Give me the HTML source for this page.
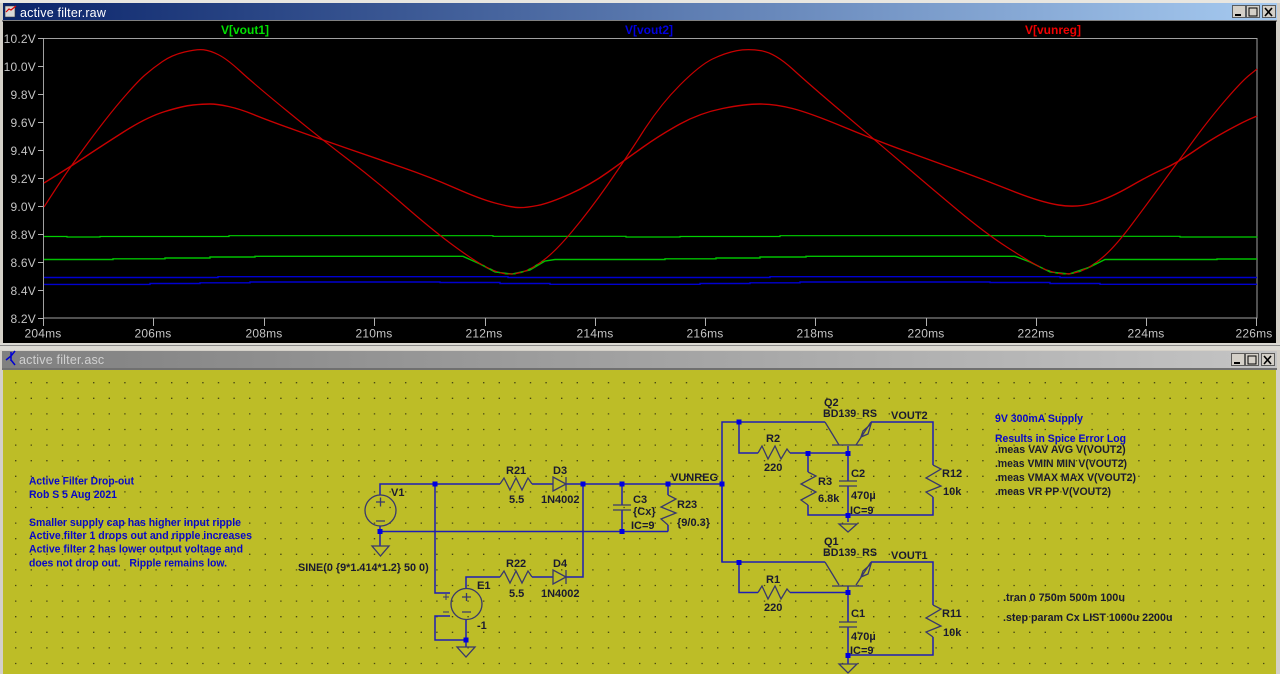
<!DOCTYPE html>
<html><head><meta charset="utf-8"><style>
html,body{margin:0;padding:0;background:#d4d0c8;width:1280px;height:674px;overflow:hidden}
svg{display:block}
text{font-family:"Liberation Sans",sans-serif}
.ax{font-size:12px;fill:#c4c4c4;letter-spacing:.2px}
.t{font-size:11px;font-weight:bold;fill:#1a1a30}
.b{font-size:11px;font-weight:bold;fill:#0808c8}
.w{fill:none;stroke:#1e1eb4;stroke-width:1.5}
.s{fill:none;stroke:#38386c;stroke-width:1.3}
.j{fill:#0000e0}
</style></head><body>
<svg xmlns="http://www.w3.org/2000/svg" width="1280" height="674" viewBox="0 0 1280 674">
<defs>
<linearGradient id="g1" x1="0" x2="1" y1="0" y2="0"><stop offset="0" stop-color="#0a246a"/><stop offset="1" stop-color="#a6caf0"/></linearGradient>
<linearGradient id="g2" x1="0" x2="1" y1="0" y2="0"><stop offset="0" stop-color="#808080"/><stop offset="1" stop-color="#c4c4c4"/></linearGradient>
</defs>
<rect width="1280" height="674" fill="#d4d0c8"/>
<rect x="0" y="0" width="1280" height="3" fill="#e8e6e0"/>
<!-- Waveform window -->
<rect x="3" y="3" width="1274" height="17" fill="url(#g1)"/>
<rect x="2" y="20" width="1275" height="2" fill="#808080"/>
<rect x="3" y="21" width="1273" height="322" fill="#000"/>
<path d="M5 6h10v11h-10z" fill="#d8d8d8" stroke="#333" stroke-width=".6"/><path d="M6 12l3-3 2 1 5-4" fill="none" stroke="#e00000" stroke-width="1.2"/>
<text x="20" y="17" font-size="12.5" fill="#fff" letter-spacing=".2">active filter.raw</text>
<g fill="#d4d0c8" stroke="#404040" stroke-width=".8">
<rect x="1232.500" y="5.500" width="13" height="12"/><rect x="1246.500" y="5.500" width="13" height="12"/><rect x="1262.500" y="5.500" width="13" height="12"/></g>
<path d="M1235 15h6" stroke="#000" stroke-width="2"/><rect x="1249" y="8" width="8" height="8" fill="none" stroke="#000"/><path d="M1265 8l7 8M1272 8l-7 8" stroke="#000" stroke-width="1.600"/>
<rect x="43.500" y="38.500" width="1213.500" height="279.500" fill="none" stroke="#a0a0a0"/>
<path stroke="#b0b0b0" fill="none" d="M38 38.500h6M38 66.500h6M38 94.500h6M38 122.500h6M38 150.500h6M38 178.500h6M38 206.500h6M38 234.500h6M38 262.500h6M38 290.500h6M38 318.500h6M43.500 318v8M153.500 318v8M264.500 318v8M374.500 318v8M485.500 318v8M595.500 318v8M705.500 318v8M815.500 318v8M926.500 318v8M1036.500 318v8M1146.500 318v8M1256.500 318v8"/>
<g class="ax" text-anchor="end">
<text x="36" y="43">10.2V</text><text x="36" y="71">10.0V</text><text x="36" y="99">9.8V</text><text x="36" y="127">9.6V</text><text x="36" y="155">9.4V</text><text x="36" y="183">9.2V</text><text x="36" y="211">9.0V</text><text x="36" y="239">8.8V</text><text x="36" y="267">8.6V</text><text x="36" y="295">8.4V</text><text x="36" y="323">8.2V</text></g>
<g class="ax" text-anchor="middle">
<text x="43" y="337.500">204ms</text><text x="153" y="337.500">206ms</text><text x="264" y="337.500">208ms</text><text x="374" y="337.500">210ms</text><text x="484" y="337.500">212ms</text><text x="595" y="337.500">214ms</text><text x="705" y="337.500">216ms</text><text x="815" y="337.500">218ms</text><text x="926" y="337.500">220ms</text><text x="1036" y="337.500">222ms</text><text x="1146" y="337.500">224ms</text><text x="1254" y="337.500">226ms</text></g>
<g font-size="12" text-anchor="middle" font-weight="bold">
<text x="245" y="34" fill="#00e000">V[vout1]</text><text x="649" y="34" fill="#0000e0">V[vout2]</text><text x="1053" y="34" fill="#f00000">V[vunreg]</text></g>
<g fill="none" stroke-width="1.200">
<path stroke="#00d000" d="M44 236.500H67V237H100V236.500H229V235.700H493V236.300H626V237H680V236.500H780V235.700H1045V236.300H1180V237H1257V236.500"/>
<path stroke="#00c000" stroke-width="1.400" d="M44 259.500H113V258.800H165V258H210V257H255V256.300H463L480 264L495 272L512 274L530 270L545 261L555 259.500H665V258.800H716V258H760V257H806V256.300H1015L1030 262L1050 272L1069 274L1090 267L1105 259.500H1217V259H1257"/>
<path stroke="#0000d0" stroke-width="1.400" d="M44 277.500H218V276.700H508V277.500H770V276.700H1060V277.500H1257"/>
<path stroke="#0000d0" stroke-width="1.400" d="M44 284.400H150V283.500H200V282.800H250V282H440V282.500H500V283.500H550V284.300H700V283.500H750V282.800H800V282H990V282.500H1050V283.500H1100V284.300H1257"/>
<path stroke="#c80000" d="M44 207L56 188.500Q68 170 87.500 143.500Q107 117 122 99.500Q137 82 145 75Q153 68 162.500 61.500Q172 55 184.500 52Q197 49 203.500 49.750Q210 50.500 218.500 54.750Q227 59 240 71Q253 83 286.500 110.500Q320 138 347.500 159Q375 180 402.500 204Q430 228 450 243Q470 258 482.500 265Q495 272 503.500 273.500Q512 275 521 272.500Q530 270 542.500 261Q555 252 572.500 231Q590 210 607.500 185Q625 160 642.500 132.500Q660 105 680 85Q700 65 712.500 59Q725 53 736.500 50.750Q748 48.500 761.500 50.750Q775 53 792.500 69Q810 85 842.500 112.500Q875 140 902.500 163.500Q930 187 957.500 210Q985 233 1007.500 247.500Q1030 262 1040 267Q1050 272 1059.500 273.500Q1069 275 1079.500 271.500Q1090 268 1102.500 257.500Q1115 247 1132.500 223.500Q1150 200 1163.500 181.500Q1177 163 1193.500 140.500Q1210 118 1226 99.500Q1242 81 1249.500 75L1257 69"/>
<path stroke="#c80000" stroke-width="1.400" d="M44 183L58.500 174Q73 165 86.500 156Q100 147 123.500 132Q147 117 165 111.500Q183 106 193 105Q203 104 210 104Q217 104 228.500 106.500Q240 109 253.500 114.500Q267 120 293.500 129.500Q320 139 347.500 148.500Q375 158 402.500 167.500Q430 177 455 188Q480 199 495 203Q510 207 517.500 207.500Q525 208 537.500 205.500Q550 203 570 194Q590 185 607.500 172.500Q625 160 642.500 147.500Q660 135 680 124Q700 113 722.500 108.500Q745 104 760 104Q775 104 792.500 108.500Q810 113 842.500 126.500Q875 140 902.500 150Q930 160 957.500 170Q985 180 1012.500 191Q1040 202 1058.500 205Q1077 208 1093.500 203Q1110 198 1130 186.500Q1150 175 1163.500 169Q1177 163 1193.500 151.500Q1210 140 1226.500 131Q1243 122 1250 119L1257 116"/>
<path stroke="#00b000" stroke-dasharray="3 5" d="M482.500 265Q495 272 503.500 273.500Q512 275 521 272.500Q530 270 542.500 261"/>
<path stroke="#00b000" stroke-dasharray="3 5" d="M1040 267Q1050 272 1059.500 273.500Q1069 275 1079.500 271.500Q1090 268 1100 260"/>
</g>
<!-- Schematic window -->
<rect x="0" y="343" width="1280" height="7" fill="#dcdad4"/>
<rect x="0" y="345" width="1280" height="1" fill="#8a8a8a"/>
<rect x="2" y="351" width="1275" height="17" fill="url(#g2)"/>
<rect x="2" y="368" width="1275" height="2" fill="#707070"/>
<rect x="3" y="370" width="1273" height="304" fill="#bdbd27"/>
<path fill="none" stroke="#4a4a14" stroke-width="1.300" stroke-dasharray="1.400 14.200" stroke-dashoffset="3.600" d="M3 382.700H1276M3 398.300H1276M3 413.900H1276M3 429.500H1276M3 445.100H1276M3 460.700H1276M3 476.300H1276M3 491.900H1276M3 507.500H1276M3 523.100H1276M3 538.700H1276M3 554.300H1276M3 569.900H1276M3 585.500H1276M3 601.100H1276M3 616.700H1276M3 632.300H1276M3 647.900H1276M3 663.500H1276"/>
<path d="M11 352v9M11 356l-5 4M11 356l4-5M11 360l4 5" stroke="#0000d0" stroke-width="1.500" fill="none"/>
<text x="19" y="364" font-size="12.5" fill="#d0d0d0" letter-spacing=".2">active filter.asc</text>
<g fill="#d4d0c8" stroke="#404040" stroke-width=".8">
<rect x="1231.500" y="353.500" width="13" height="12"/><rect x="1245.500" y="353.500" width="13" height="12"/><rect x="1261.500" y="353.500" width="13" height="12"/></g>
<path d="M1234 363h6" stroke="#000" stroke-width="2"/><rect x="1248" y="356" width="8" height="8" fill="none" stroke="#000"/><path d="M1264 356l7 8M1271 356l-7 8" stroke="#000" stroke-width="1.600"/>
<!-- wires -->
<path class="w" d="M380 495V484H500M532 484H553M566 484H722M380 526V546M380 531.500H668M435 484V593H450M466 588V577H500M532 577H553M566 577H583V484M622 484V505M622 510V531.500M668 484V495M668 525V531.500"/>
<path class="w" d="M450 616H435V640H466M466 620V647"/>
<path class="w" d="M722 562V422H825M739 422V453H758M790 453H848V446M808 453V472M808 505V515H933V497M848 453V481M848 486V522M871 422H933V465"/>
<path class="w" d="M722 484V562H825M739 562V592.500H758M790 592.500H848V586M848 592.500V622M848 627V664M871 562H933V605M933 637V655H848"/>
<!-- junctions -->
<g class="j">
<rect x="432.500" y="481.500" width="5" height="5"/><rect x="580.500" y="481.500" width="5" height="5"/><rect x="619.500" y="481.500" width="5" height="5"/><rect x="665.500" y="481.500" width="5" height="5"/><rect x="719.500" y="481.500" width="5" height="5"/>
<rect x="377.500" y="529" width="5" height="5"/><rect x="619.500" y="529" width="5" height="5"/><rect x="463.500" y="637.500" width="5" height="5"/>
<rect x="736.500" y="419.500" width="5" height="5"/><rect x="805.500" y="451" width="5" height="5"/><rect x="845.500" y="451" width="5" height="5"/><rect x="845.500" y="513" width="5" height="5"/>
<rect x="736.500" y="560" width="5" height="5"/><rect x="845.500" y="590" width="5" height="5"/><rect x="845.500" y="653" width="5" height="5"/>
</g>
<!-- symbols -->
<g class="s">
<circle cx="380.500" cy="510.500" r="15.500"/><path d="M376 502h9M380.500 497.500v9M376 521h9"/>
<circle cx="466.500" cy="604" r="15.500"/><path d="M462 597h9M466.500 593v8M462 612h9"/>
<path d="M443 597h6M446 594v6M443 612h6" stroke-width="1"/>
<path d="M372 546H389L380.500 556Z"/><path d="M457 647H475L466 657Z"/><path d="M839 524H857L848 532Z"/><path d="M839 664H857L848 673Z"/>
<path d="M500 484L504 478L510 490L516 478L522 490L528 478L532 484"/>
<path d="M500 577L504 571L510 583L516 571L522 583L528 571L532 577"/>
<path d="M553 477V491L566 484ZM566 477V491"/><path d="M553 570V584L566 577ZM566 570V584"/>
<path d="M613 505H631M613 510H631"/>
<path d="M668 495L676 499L661 507L676 513L661 519L668 525"/>
<path d="M758 453L762 446L768 459L775 446L781 459L787 449L790 453"/>
<path d="M758 592.500L762 586L768 599L775 586L781 599L787 589L790 592.500"/>
<path d="M808 472L816 476L801 484L816 492L801 500L808 505"/>
<path d="M839 481H857M839 486H857"/><path d="M839 622H857M839 627H857"/>
<path d="M933 465L941 469L926 478L941 486L926 492L933 497"/>
<path d="M933 605L941 609L926 618L941 626L926 632L933 637"/>
<path d="M832 445H863M825 422L839 445M856 445L871 422M861 437L868 434L871 424L863 431Z"/>
<path d="M832 586H863M825 562L839 585M856 585L871 562M861 577L868 574L871 564L863 571Z"/>
</g>
<!-- labels -->
<g class="t">
<text x="391" y="496">V1</text><text x="477" y="589">E1</text><text x="477" y="629">-1</text>
<text x="298" y="571" textLength="130.700" lengthAdjust="spacingAndGlyphs">SINE(0 {9*1.414*1.2} 50 0)</text>
<text x="506" y="474">R21</text><text x="509" y="503">5.5</text><text x="553" y="474">D3</text><text x="541" y="503">1N4002</text>
<text x="506" y="567">R22</text><text x="509" y="597">5.5</text><text x="553" y="567">D4</text><text x="541" y="597">1N4002</text>
<text x="633" y="503">C3</text><text x="633" y="515">{Cx}</text><text x="631" y="529">IC=9</text>
<text x="677" y="508">R23</text><text x="677" y="526">{9/0.3}</text><text x="671" y="481">VUNREG</text>
<text x="824" y="406">Q2</text><text x="823" y="417" textLength="54" lengthAdjust="spacingAndGlyphs">BD139_RS</text><text x="891" y="419">VOUT2</text>
<text x="766" y="442">R2</text><text x="764" y="471">220</text><text x="818" y="485">R3</text><text x="818" y="502">6.8k</text>
<text x="851" y="477">C2</text><text x="851" y="499">470µ</text><text x="850" y="514">IC=9</text>
<text x="942" y="477">R12</text><text x="943" y="495">10k</text>
<text x="824" y="545">Q1</text><text x="823" y="556" textLength="54" lengthAdjust="spacingAndGlyphs">BD139_RS</text><text x="891" y="559">VOUT1</text>
<text x="766" y="583">R1</text><text x="764" y="611">220</text>
<text x="851" y="617">C1</text><text x="851" y="640">470µ</text><text x="850" y="654">IC=9</text>
<text x="942" y="617">R11</text><text x="943" y="636">10k</text>
<text x="995" y="453" textLength="130.700" lengthAdjust="spacingAndGlyphs">.meas VAV AVG V(VOUT2)</text>
<text x="995" y="467" textLength="132" lengthAdjust="spacingAndGlyphs">.meas VMIN MIN V(VOUT2)</text>
<text x="995" y="481" textLength="141" lengthAdjust="spacingAndGlyphs">.meas VMAX MAX V(VOUT2)</text>
<text x="995" y="495" textLength="116" lengthAdjust="spacingAndGlyphs">.meas VR PP V(VOUT2)</text>
<text x="1003" y="601" textLength="122" lengthAdjust="spacingAndGlyphs">.tran 0 750m 500m 100u</text>
<text x="1003" y="621" textLength="169.500" lengthAdjust="spacingAndGlyphs">.step param Cx LIST 1000u 2200u</text>
</g>
<g class="b">
<text x="29" y="484.500" textLength="105" lengthAdjust="spacingAndGlyphs">Active Filter Drop-out</text>
<text x="29" y="498" textLength="88" lengthAdjust="spacingAndGlyphs">Rob S 5 Aug 2021</text>
<text x="29" y="526" textLength="212" lengthAdjust="spacingAndGlyphs">Smaller supply cap has higher input ripple</text>
<text x="29" y="539" textLength="223" lengthAdjust="spacingAndGlyphs">Active filter 1 drops out and ripple increases</text>
<text x="29" y="552.500" textLength="214" lengthAdjust="spacingAndGlyphs">Active filter 2 has lower output voltage and</text>
<text x="29" y="566.500" textLength="198" lengthAdjust="spacingAndGlyphs">does not drop out.&#160;&#160; Ripple remains low.</text>
<text x="995" y="422" textLength="88" lengthAdjust="spacingAndGlyphs">9V 300mA Supply</text>
<text x="995" y="442" textLength="131" lengthAdjust="spacingAndGlyphs">Results in Spice Error Log</text>
</g>
</svg>
</body></html>
